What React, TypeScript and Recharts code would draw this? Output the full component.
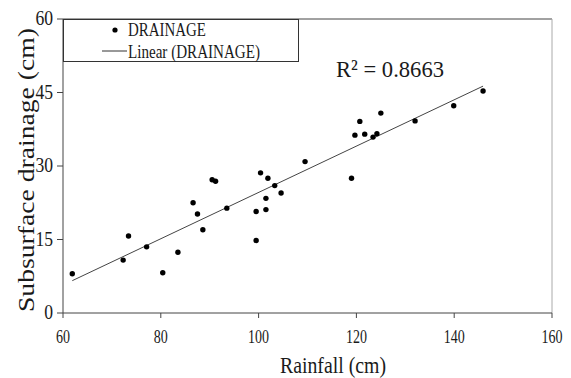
import React from 'react'
import {
    ScatterChart,
    Scatter,
    XAxis,
    YAxis,
    ReferenceLine,
} from 'recharts'

document.body.style.margin = '0'

const rainfall = [
    61.9, 72.3, 73.4, 77.1, 80.4, 83.5, 86.6, 87.5, 88.6, 90.5, 91.2, 93.5, 99.5, 99.5, 100.4, 101.5,
    101.5, 101.9, 103.3, 104.6, 109.5, 119.0, 119.7, 120.7, 121.7, 123.4, 124.2, 125.0, 132.0, 139.9, 145.9,
]
const drainage = [
    8.0, 10.8, 15.7, 13.5, 8.2, 12.4, 22.5, 20.2, 17.0, 27.2, 26.9, 21.4, 14.8, 20.7, 28.6, 21.1,
    23.4, 27.5, 26.0, 24.5, 30.9, 27.5, 36.3, 39.1, 36.5, 35.9, 36.6, 40.8, 39.2, 42.3, 45.3,
]
const trendX = [61.9, 145.9]
const trendY = [6.6, 46.3]
const xTicks = [60, 80, 100, 120, 140, 160]
const yTicks = [0, 15, 30, 45, 60]

const points = rainfall.map((x, i) => ({ x, y: drainage[i] }))
const trend = trendX.map((x, i) => ({ x, y: trendY[i] }))

const FONT = 'Liberation Serif'
const INK = '#1a1a1a'

function XTick({ x, y, payload }: any) {
    const s = String(payload.value)
    return (
        <text x={x} y={y + 23} textAnchor="middle" style={{ fontFamily: FONT }} fontSize={19} fill={INK}
            textLength={s.length * 7} lengthAdjust="spacingAndGlyphs">
            {s}
        </text>
    )
}

function YTick({ x, y, payload }: any) {
    const s = String(payload.value)
    return (
        <text x={x - 2} y={y + 6} textAnchor="end" style={{ fontFamily: FONT }} fontSize={20} fill={INK}
            textLength={s.length * 8.8} lengthAdjust="spacingAndGlyphs">
            {s}
        </text>
    )
}

function Overlay() {
    const t = { fontFamily: FONT }
    return (
        <svg width={571} height={378} style={{ position: 'absolute', left: 0, top: 0, pointerEvents: 'none' }}>
            {/* legend box */}
            <rect x={63.5} y={19.5} width={235} height={42} fill="#fff" stroke="#333" strokeWidth={1} />
            <circle cx={115} cy={30} r={2.6} fill="#000" />
            <text x={128} y={36} style={t} fontSize={19} fill={INK} textLength={78} lengthAdjust="spacingAndGlyphs">
                DRAINAGE
            </text>
            <line x1={102} x2={127} y1={51} y2={51} stroke="#333" strokeWidth={1} />
            <text x={128} y={58} style={t} fontSize={19} fill={INK} textLength={132} lengthAdjust="spacingAndGlyphs">
                Linear (DRAINAGE)
            </text>
            {/* r squared */}
            <text x={336} y={77} style={t} fontSize={24} fill={INK} textLength={108} lengthAdjust="spacingAndGlyphs">
                R² = 0.8663
            </text>
            {/* axis titles */}
            <text x={333} y={373} textAnchor="middle" style={t} fontSize={24} fill={INK}
                textLength={106} lengthAdjust="spacingAndGlyphs">
                Rainfall (cm)
            </text>
            <text x={0} y={0} transform="translate(34,170) rotate(-90)" textAnchor="middle" style={t}
                fontSize={24} fill={INK} textLength={284} lengthAdjust="spacingAndGlyphs">
                Subsurface drainage (cm)
            </text>
        </svg>
    )
}

export default function App() {
    return (
        <div style={{ position: 'relative', width: 571, height: 378, background: '#fff' }}>
            <ScatterChart width={571} height={378} margin={{ top: 19, right: 19, left: 0, bottom: 0 }}>
                <XAxis type="number" dataKey="x" domain={[60, 160]} ticks={xTicks} height={65}
                    stroke="#444" tickSize={5} tick={<XTick />} allowDataOverflow />
                <YAxis type="number" dataKey="y" domain={[0, 60]} ticks={yTicks} width={63}
                    stroke="#444" tickSize={6} tick={<YTick />} allowDataOverflow />
                <ReferenceLine y={60} stroke="#444" />
                <ReferenceLine x={160} stroke="#aaa" />
                <Scatter data={trend} line={{ stroke: '#444', strokeWidth: 1 }} shape={() => <g />}
                    isAnimationActive={false} />
                <Scatter data={points} fill="#000" shape={(p: any) => <circle cx={p.cx} cy={p.cy} r={2.7} fill="#000" />}
                    isAnimationActive={false} />
            </ScatterChart>
            <Overlay />
        </div>
    )
}
